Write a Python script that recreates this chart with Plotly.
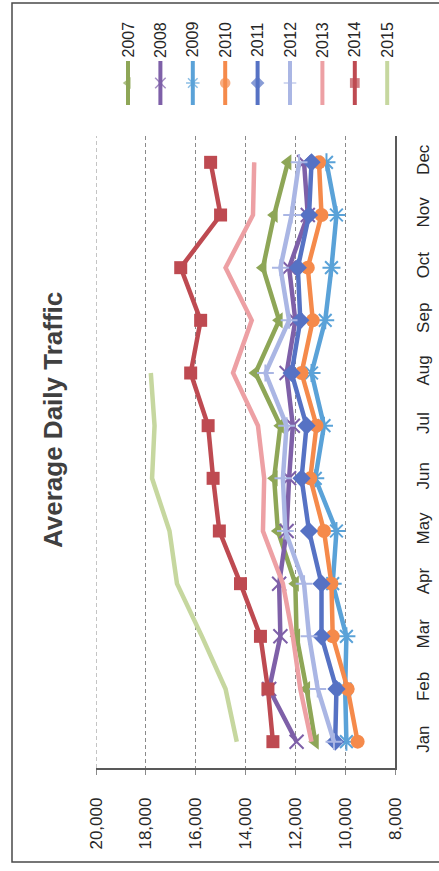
import plotly.graph_objects as go

# Monthly average daily traffic by year
months = ["Jan", "Feb", "Mar", "Apr", "May", "Jun",
          "Jul", "Aug", "Sep", "Oct", "Nov", "Dec"]

adt_2007 = [11200, 11550, 11950, 12000, 12700, 12850, 12600, 13600, 12650, 13300, 12850, 12300]
adt_2008 = [11950, 13050, 12600, 12650, 12350, 12250, 12100, 12350, 12000, 12250, 11500, 11650]
adt_2009 = [9950, 10000, 9950, 10500, 10350, 11200, 10850, 11350, 10800, 10550, 10350, 10750]
adt_2010 = [9500, 9900, 10500, 10550, 10850, 11400, 11150, 11750, 11300, 11500, 10950, 11050]
adt_2011 = [10400, 10350, 10950, 10950, 11450, 11750, 11550, 12150, 11800, 11900, 11450, 11350]
adt_2012 = [10450, 11100, 11450, 11650, 12400, 12500, 12350, 13200, 12250, 12600, 12150, 11850]
adt_2013 = [11350, 11800, 12100, 12500, 13300, 13250, 13500, 14500, 13750, 14800, 13700, 13650]
adt_2014 = [12900, 13100, 13400, 14200, 15050, 15300, 15500, 16200, 15800, 16600, 15000, 15400]
adt_2015 = [14350, 14800, 15750, 16750, 17050, 17750, 17650, 17800]

value_ticks = [20000, 18000, 16000, 14000, 12000, 10000, 8000]
value_tick_text = ["20,000", "18,000", "16,000", "14,000", "12,000", "10,000", "8,000"]

title_text = "Average Daily Traffic"

W, H = 439, 871
FONT = "Liberation Sans, Arial, sans-serif"
GRID = "#8a8a8a"

# name, values, colour, marker symbol (None = plain line), marker size, open-line marker?
series = [
    ("2007", adt_2007, "#8EA657", "triangle-left", 14, False),
    ("2008", adt_2008, "#7E60A8", "x-thin-open", 14, True),
    ("2009", adt_2009, "#5AA2D8", "asterisk-open", 15, True),
    ("2010", adt_2010, "#F58A4B", "circle", 14, False),
    ("2011", adt_2011, "#5672C4", "diamond", 14, False),
    ("2012", adt_2012, "#AAB6E4", "cross-thin-open", 12, True),
    ("2013", adt_2013, "#EDA0A4", None, 0, False),
    ("2014", adt_2014, "#BE4A51", "square", 13, False),
    ("2015", adt_2015, "#C6D79F", None, 0, False),
]

fig = go.Figure()

for name, vals, color, sym, size, open_m in series:
    kw = dict(mode="lines")
    if sym:
        kw["mode"] = "lines+markers"
        kw["marker"] = dict(symbol=sym, size=size, color=color,
                            line=dict(color=color, width=2 if open_m else 0))
    fig.add_trace(go.Scatter(
        x=vals, y=months[:len(vals)], name=name,
        line=dict(color=color, width=4.5), showlegend=False, **kw))

# Hand-built vertical legend strip along the top (pixel space overlay axes)
leg_x0, leg_dx = 128, 32.4
for i, (name, vals, color, sym, size, open_m) in enumerate(series):
    cx = leg_x0 + i * leg_dx
    kw = dict(mode="lines")
    if sym:
        kw["mode"] = "lines+markers"
        kw["marker"] = dict(symbol=sym, size=[0, size * 0.75, 0], color=color,
                            line=dict(color=color, width=1.5 if open_m else 0))
    fig.add_trace(go.Scatter(
        x=[cx, cx, cx], y=[61, 83, 105], xaxis="x2", yaxis="y2",
        line=dict(color=color, width=4), showlegend=False, hoverinfo="skip", **kw))
    fig.add_annotation(
        x=cx / W, y=1 - 39.5 / H, xref="paper", yref="paper",
        text=name, textangle=-90, showarrow=False,
        font=dict(family=FONT, size=16, color="#262626"),
        xanchor="center", yanchor="middle")

fig.add_annotation(
    x=53 / W, y=1 - 420 / H, xref="paper", yref="paper",
    text="<b>" + title_text + "</b>", textangle=-90, showarrow=False,
    font=dict(family=FONT, size=26, color="#404040"),
    xanchor="center", yanchor="middle")

# Dashed gridline on the 20,000 edge of the plot area
fig.add_shape(type="line", xref="x", yref="y domain",
              x0=value_ticks[0], x1=value_ticks[0], y0=0, y1=1,
              line=dict(color=GRID, width=1, dash="4px,3px"))

# Outer chart border
fig.add_shape(type="rect", xref="paper", yref="paper",
              x0=12 / W, x1=1.05, y0=1 - 862 / H, y1=1 - 3 / H,
              line=dict(color="#4a4a4a", width=1.5), fillcolor="rgba(0,0,0,0)")

fig.update_layout(
    width=W, height=H,
    margin=dict(l=0, r=0, t=0, b=0, pad=0, autoexpand=False),
    paper_bgcolor="white", plot_bgcolor="rgba(0,0,0,0)",
    showlegend=False,
    font=dict(family=FONT, color="#262626"),
    xaxis=dict(
        domain=[96 / W, 395 / W], range=[20000, 8000],
        tickvals=value_ticks, ticktext=value_tick_text, tickangle=-90,
        tickfont=dict(size=17, family=FONT, color="#262626"),
        showgrid=True, gridcolor=GRID, gridwidth=1, griddash="4px,3px",
        zeroline=False, showline=True, linecolor="#595959", linewidth=1.5,
        ticks="outside", ticklen=5, tickcolor=GRID,
        ticklabelstandoff=16, anchor="y", automargin=False,
    ),
    yaxis=dict(
        domain=[1 - 768 / H, 1 - 136 / H], range=[-0.5, 11.5],
        type="category", categoryorder="array", categoryarray=months,
        side="right", tickangle=-90,
        tickfont=dict(size=17, family=FONT, color="#262626"),
        showgrid=False, zeroline=False, showline=True,
        linecolor="#595959", linewidth=1.5, ticks="",
        ticklabelstandoff=12, anchor="x", automargin=False,
    ),
    xaxis2=dict(domain=[0, 1], range=[0, W], visible=False, anchor="y2",
                automargin=False),
    yaxis2=dict(domain=[0, 1], range=[H, 0], visible=False, anchor="x2",
                automargin=False),
)

fig.write_html("out.html")
